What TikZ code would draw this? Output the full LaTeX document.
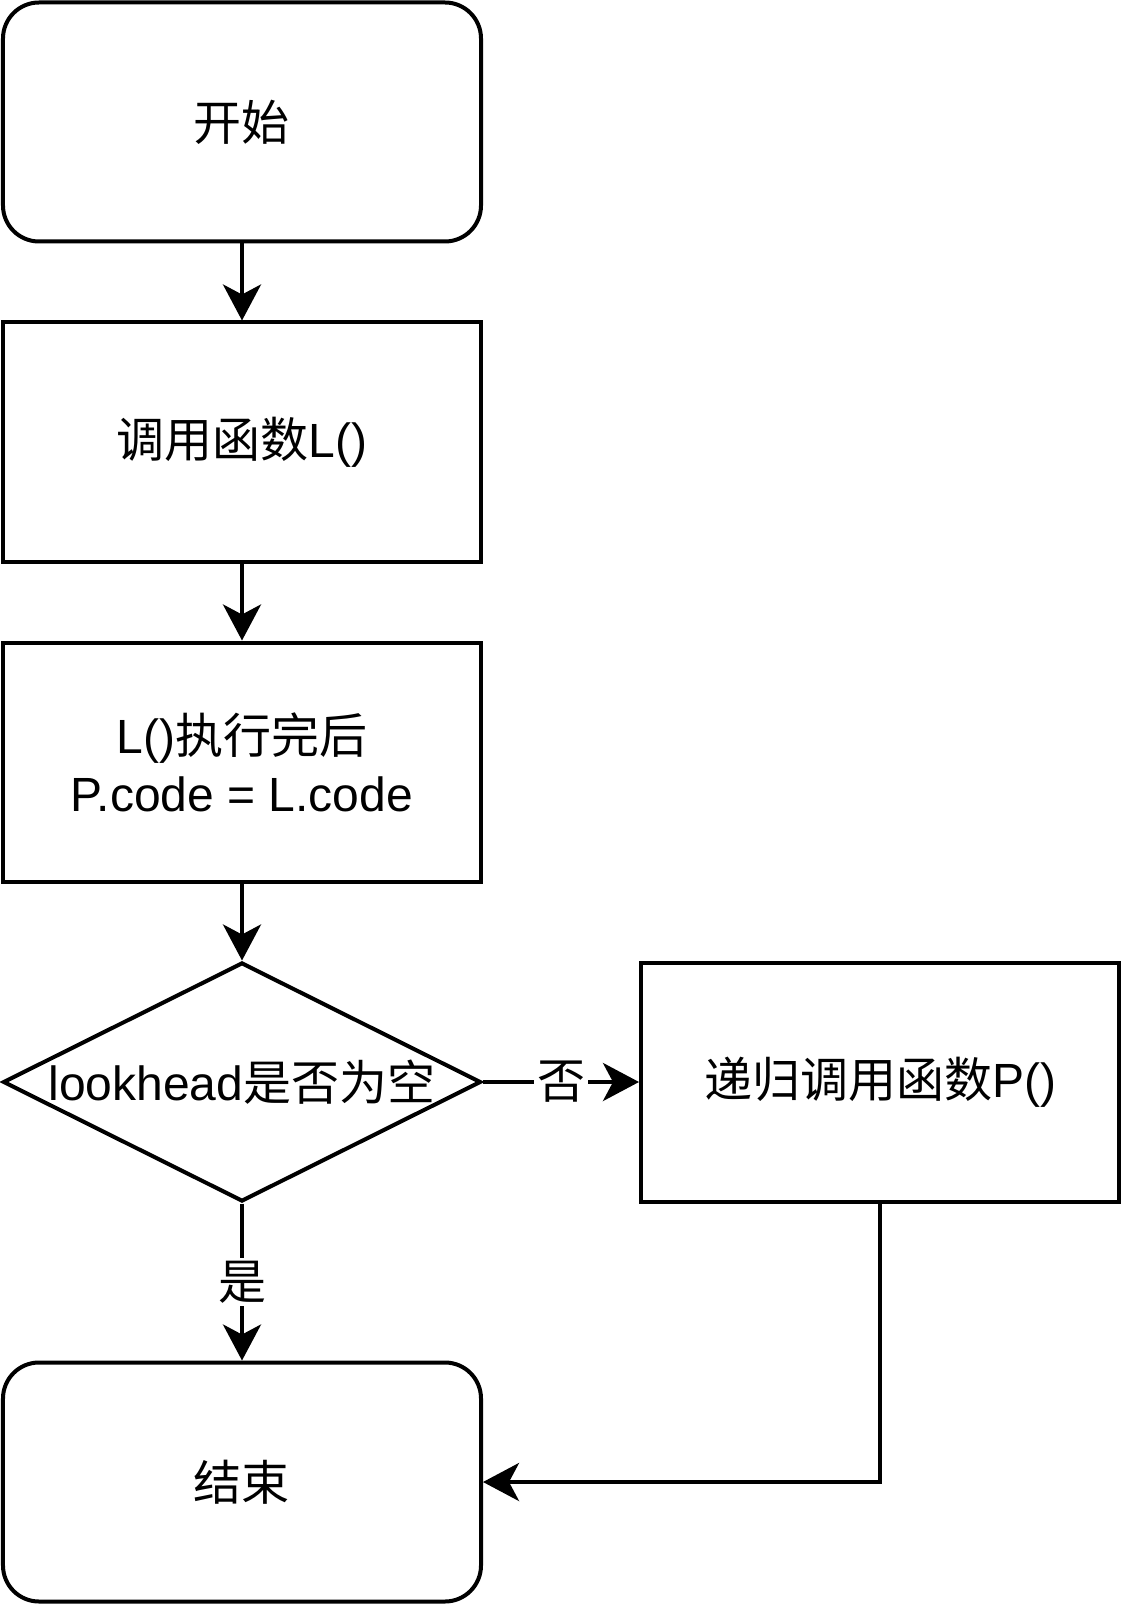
\documentclass[tikz,border=0pt]{standalone}
\usepackage{fontspec}
\setmainfont{Liberation Sans}
\newfontfamily\cjk{Noto Sans CJK SC}
\usetikzlibrary{shapes.geometric,arrows.meta,positioning}
\tikzset{
	startstop/.style={draw=black,line width=2pt,rounded corners=18pt,minimum width=239pt,minimum height=119.5pt,font=\fontsize{24}{29}\selectfont},
	proc/.style={draw=black,line width=2pt,minimum width=239pt,minimum height=119.5pt,align=center,font=\fontsize{24}{29}\selectfont},
	decision/.style={draw=black,line width=2pt,diamond,aspect=2,inner sep=0pt,minimum width=239pt,minimum height=119.5pt,font=\fontsize{24}{29}\selectfont},
	arrow/.style={-{Stealth[length=18pt,width=19pt,inset=5pt]},draw=black,line width=2pt},
	edgelabel/.style={fill=white,inner sep=1.5pt,font=\fontsize{24}{29}\selectfont}
}

\begin{document}
\begin{tikzpicture}
		\useasboundingbox (-121pt,61pt) rectangle (441pt,-741pt);
		\node[startstop] (start) at (0,0) {{\cjk 开始}};
		\node[proc,below=38.5pt of start] (callL) {{\cjk 调用函数}L()};
		\node[proc,below=38.5pt of callL] (assign) {L(){\cjk 执行完后}\\P.code = L.code};
		\node[decision,below=38.5pt of assign] (check) {lookhead{\cjk 是否为空}};
		\node[proc,right=78pt of check] (callP) {{\cjk 递归调用函数}P()};
		\node[startstop,below=78.5pt of check] (stop) {{\cjk 结束}};
		\draw[arrow] (start) -- (callL);
		\draw[arrow] (callL) -- (assign);
		\draw[arrow] (assign) -- (check);
		\draw[arrow] (check) -- node[edgelabel] {{\cjk 否}} (callP);
		\draw[arrow] (check) -- node[edgelabel] {{\cjk 是}} (stop);
		\draw[arrow] (callP) |- (stop);
		\end{tikzpicture}
\end{document}
